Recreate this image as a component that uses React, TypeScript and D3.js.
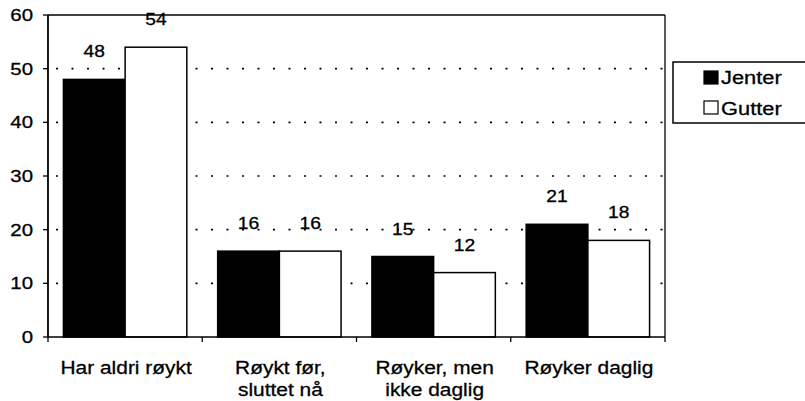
import React from 'react';
import * as d3 from 'd3';

const categories = [['Har aldri røykt'], ['Røykt før,', 'sluttet nå'], ['Røyker, men', 'ikke daglig'], ['Røyker daglig']];
const series = ['Jenter', 'Gutter'];
const jenter = [48, 16, 15, 21];
const gutter = [54, 16, 12, 18];
const yTicks = [0, 10, 20, 30, 40, 50, 60];

const W = 805;
const H = 401;
const left = 48, right = 665, top = 15, bottom = 337;
const font = 'Arimo, "Liberation Sans", Arial, sans-serif';

// scanned original is a bit stretched sideways, so text gets a horizontal scale
function T({ x, y, size, sx = 1.2, anchor = 'start', children }: any) {
  return (
    <text transform={`translate(${x},${y}) scale(${sx},1)`} textAnchor={anchor} fontSize={size}
      stroke="#000" strokeWidth={0.3} fill="#000">{children}</text>
  );
}

export default function App() {
  const x = d3.scaleBand<number>().domain(d3.range(categories.length)).range([left, right]);
  const inner = d3.scaleBand<string>().domain(series).range([0, x.bandwidth()]).paddingOuter(0.25);
  const y = d3.scaleLinear().domain([0, 60]).range([bottom, top]);
  const values = [jenter, gutter];
  const fills = ['#000', '#fff'];

  return (
    <svg width={W} height={H} style={{ position: 'absolute', left: 0, top: 0, background: '#fff' }} fontFamily={font}>
      {/* dotted grid */}
      {yTicks.filter((t) => t > 0 && t < 60).map((t) => (
        <line key={'g' + t} x1={left} x2={right} y1={y(t)} y2={y(t)} stroke="#000" strokeWidth={1.6} strokeDasharray="2 13.5" strokeDashoffset={-8} />
      ))}
      {/* bars */}
      {categories.map((c, i) => series.map((s, j) => (
        <rect key={i + s} x={x(i)! + inner(s)!} y={y(values[j][i])} width={inner.bandwidth()} height={y(0) - y(values[j][i])}
          fill={fills[j]} stroke="#000" strokeWidth={1.5} />
      )))}
      {/* value labels */}
      {categories.map((c, i) => series.map((s, j) => (
        <T key={'v' + i + s} x={x(i)! + inner(s)! + inner.bandwidth() / 2} y={y(values[j][i]) - 22} size={16} anchor="middle">{values[j][i]}</T>
      )))}
      {/* frame */}
      <line x1={left} x2={right} y1={top} y2={top} stroke="#000" strokeWidth={1.3} />
      <line x1={right} x2={right} y1={top} y2={bottom} stroke="#000" strokeWidth={1.3} />
      <line x1={left} x2={right} y1={bottom} y2={bottom} stroke="#000" strokeWidth={1.5} />
      <line x1={left} x2={left} y1={top} y2={bottom} stroke="#000" strokeWidth={1.8} />
      {/* y axis */}
      {yTicks.map((t) => (
        <g key={'y' + t}>
          <line x1={left - 5} x2={left} y1={y(t)} y2={y(t)} stroke="#000" strokeWidth={1.3} />
          <T x={33} y={y(t) + 6} size={17} anchor="end">{t}</T>
        </g>
      ))}
      {/* x axis ticks */}
      {d3.range(categories.length + 1).map((i) => {
        const xx = i < categories.length ? x(i)! : right;
        return <line key={'xt' + i} x1={xx} x2={xx} y1={bottom} y2={bottom + 5} stroke="#000" strokeWidth={1.3} />;
      })}
      {categories.map((c, i) => c.map((line, k) => (
        <T key={'c' + i + k} x={x(i)! + x.bandwidth() / 2 + 1} y={374 + k * 22} size={19} sx={1.1} anchor="middle">{line}</T>
      )))}
      {/* legend */}
      <rect x={673} y={62} width={140} height={61} fill="#fff" stroke="#000" strokeWidth={1.5} />
      {series.map((s, j) => (
        <g key={'l' + s}>
          <rect x={704} y={71 + j * 30} width={14} height={13} fill={fills[j]} stroke="#000" strokeWidth={1.2} />
          <T x={721} y={84 + j * 31} size={19} sx={1.15}>{s}</T>
        </g>
      ))}
    </svg>
  );
}
